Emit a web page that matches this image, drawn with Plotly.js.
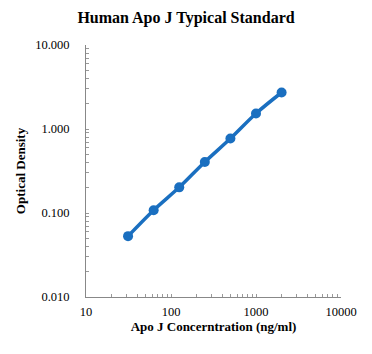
<!DOCTYPE html>
<html>
<head>
<meta charset="utf-8">
<script src="https://cdn.plot.ly/plotly-3.0.1.min.js"></script>
<style>html,body{margin:0;padding:0;background:#fff;}#chart{width:372px;height:354px;}</style>
</head>
<body>
<div id="chart"></div>
<script>
const concentrations = [31.25, 62.5, 125, 250, 500, 1000, 2000];
const opticalDensity = [0.053, 0.108, 0.202, 0.405, 0.77, 1.53, 2.72];
const xTickVals = [10,20,30,40,50,60,70,80,90,100,200,300,400,500,600,700,800,900,1000,2000,3000,4000,5000,6000,7000,8000,9000,10000];
const xTickText = xTickVals.map(v => [10,100,1000,10000].includes(v) ? String(v) : '');
const yTickVals = [0.01,0.02,0.03,0.04,0.05,0.06,0.07,0.08,0.09,0.1,0.2,0.3,0.4,0.5,0.6,0.7,0.8,0.9,1,2,3,4,5,6,7,8,9,10];
const yTickText = yTickVals.map(v => ({0.01:'0.010',0.1:'0.100',1:'1.000',10:'10.000'})[v] || '');

const font = 'Liberation Serif, Times New Roman, serif';
const blue = '#1a6fc0';

Plotly.newPlot('chart', [{
  x: concentrations, y: opticalDensity,
  type: 'scatter', mode: 'lines+markers',
  line: {color: blue, width: 3.5, shape: 'spline'},
  marker: {color: blue, size: 10},
  hoverinfo: 'none'
}], {
  width: 372, height: 354,
  margin: {l: 86, r: 31, t: 45, b: 57},
  paper_bgcolor: '#fff', plot_bgcolor: '#fff',
  showlegend: false,
  title: {text: '<b>Human Apo J Typical Standard</b>', font: {family: font, size: 16, color: '#000'}, x: 0.5, xanchor: 'center', y: 0.952, yanchor: 'middle'},
  xaxis: {
    type: 'log', range: [1, 4],
    tickmode: 'array', tickvals: xTickVals, ticktext: xTickText,
    ticks: 'inside', ticklen: 3, tickcolor: '#999', tickwidth: 1,
    ticklabelstandoff: 3,
    showline: true, linecolor: '#888', linewidth: 1, mirror: false,
    showgrid: false, zeroline: false,
    tickfont: {family: font, size: 12.5, color: '#000'},
    title: {text: '<b>Apo J Concerntration (ng/ml)</b>', font: {family: font, size: 13, color: '#000'}, standoff: 0}
  },
  yaxis: {
    type: 'log', range: [-2, 1],
    tickmode: 'array', tickvals: yTickVals, ticktext: yTickText,
    ticks: 'inside', ticklen: 3, tickcolor: '#999', tickwidth: 1,
    ticklabelstandoff: 13,
    showline: true, linecolor: '#888', linewidth: 1, mirror: false,
    showgrid: false, zeroline: false,
    tickfont: {family: font, size: 12.5, color: '#000'},
    title: {text: '<b>Optical Density</b>', font: {family: font, size: 13, color: '#000'}, standoff: 6}
  }
}, {displayModeBar: false, staticPlot: true});
</script>
</body>
</html>
